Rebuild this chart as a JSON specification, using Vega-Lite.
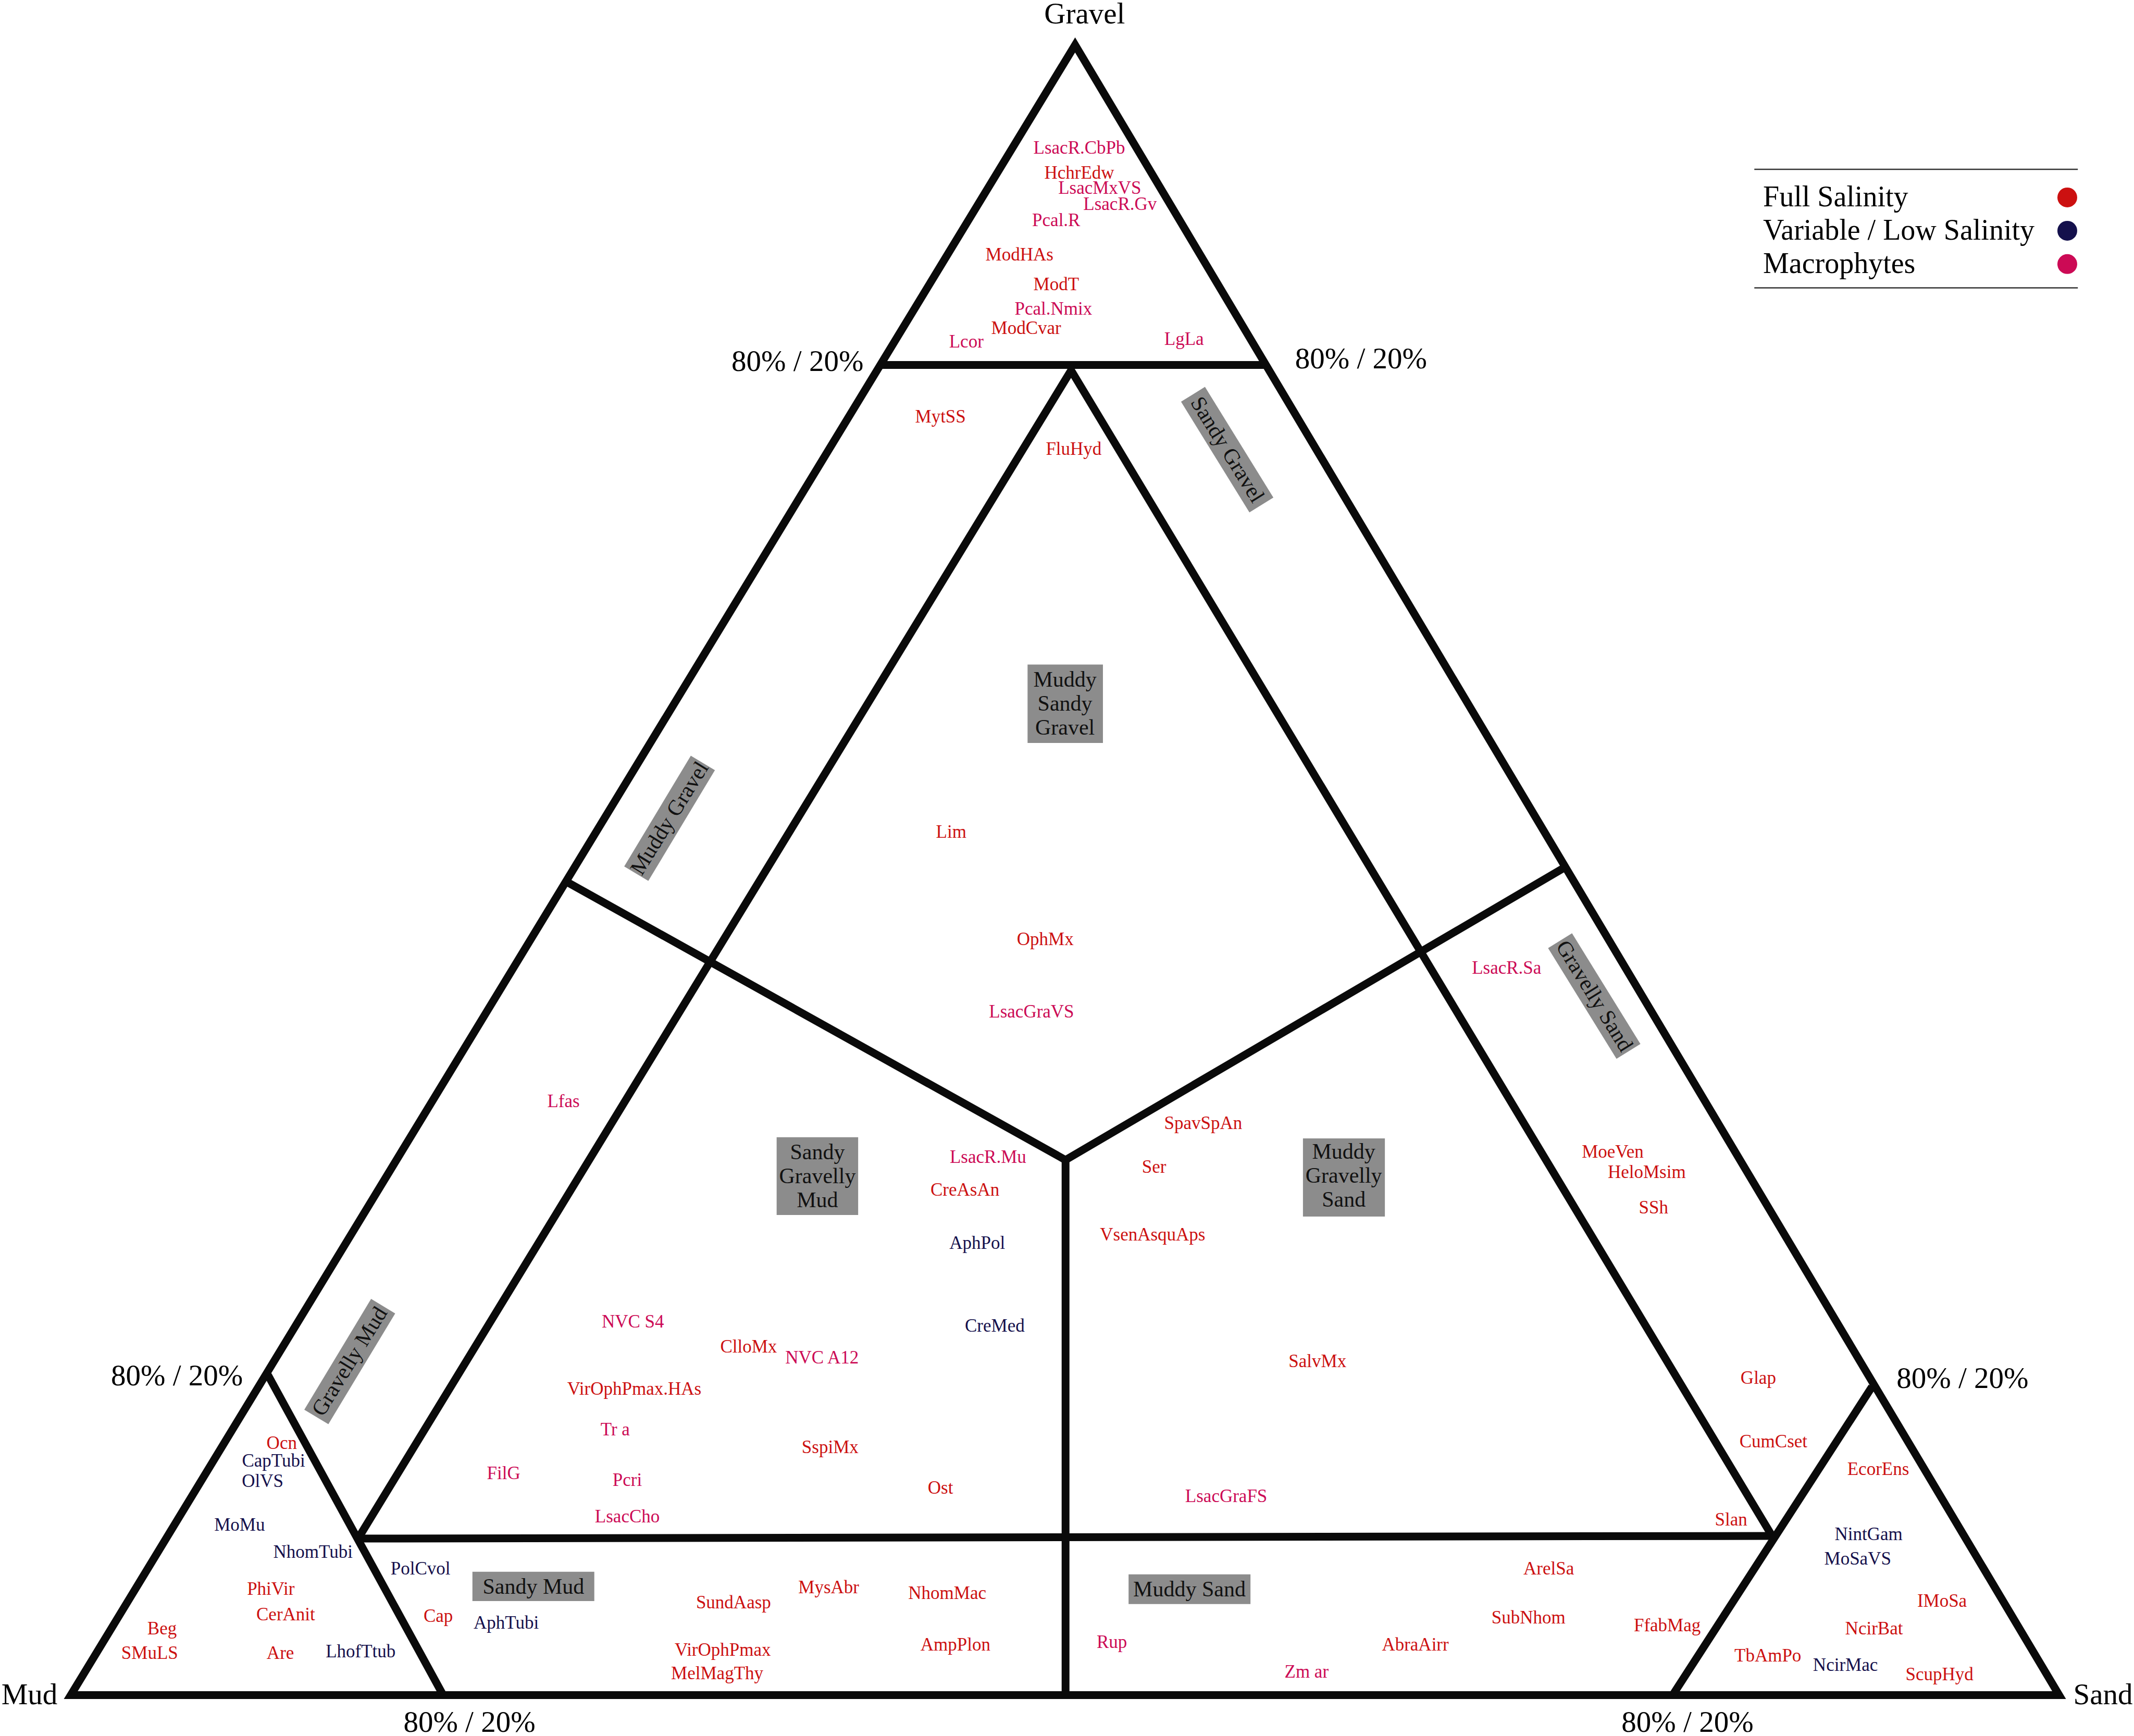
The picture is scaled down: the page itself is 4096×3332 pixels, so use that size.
{
"$schema": "https://vega.github.io/schema/vega-lite/v6.json",
"width": 4096, "height": 3332, "autosize": {"type": "none"}, "padding": 0,
"background": "white",
"config": {"view": {"stroke": null}, "font": "Liberation Serif", "text": {"font": "Liberation Serif"}},
"datasets": {
"lines": [
{"seg":"outer","o":0,"X":0,"Y":0},{"seg":"outer","o":1,"X":100,"Y":0},{"seg":"outer","o":2,"X":50.51,"Y":100},{"seg":"outer","o":3,"X":0,"Y":0},{"seg":"outer","o":4,"X":100,"Y":0},
{"seg":"g80","o":0,"X":40.72,"Y":80.61},{"seg":"g80","o":1,"X":60.11,"Y":80.61},
{"seg":"inner","o":0,"X":14.45,"Y":9.49},{"seg":"inner","o":1,"X":50.31,"Y":80.28},{"seg":"inner","o":2,"X":85.56,"Y":9.65},
{"seg":"base10","o":0,"X":14.45,"Y":9.49},{"seg":"base10","o":1,"X":85.56,"Y":9.65},
{"seg":"vleft","o":0,"X":24.98,"Y":49.26},{"seg":"vleft","o":1,"X":50.03,"Y":32.43},{"seg":"vleft","o":2,"X":75.15,"Y":50.17},
{"seg":"vert","o":0,"X":50.03,"Y":32.43},{"seg":"vert","o":1,"X":50.03,"Y":0},
{"seg":"sleft","o":0,"X":9.92,"Y":19.39},{"seg":"sleft","o":1,"X":18.73,"Y":0},
{"seg":"sright","o":0,"X":90.59,"Y":18.69},{"seg":"sright","o":1,"X":80.56,"Y":0}
],
"boxes": [
{"t":"Muddy\nSandy\nGravel","X":48.12,"X2":51.91,"Y":62.45,"Y2":57.70,"cx":50.0,"cy":61.53},
{"t":"Sandy\nGravelly\nMud","X":35.50,"X2":39.60,"Y":33.81,"Y2":29.10,"cx":37.55,"cy":32.89},
{"t":"Muddy\nGravelly\nSand","X":61.97,"X2":66.09,"Y":33.74,"Y2":29.00,"cx":64.02,"cy":32.92},
{"t":"Sandy Mud","X":20.20,"X2":26.33,"Y":7.48,"Y2":5.70,"cx":23.27,"cy":6.54},
{"t":"Muddy Sand","X":53.20,"X2":59.33,"Y":7.32,"Y2":5.52,"cx":56.26,"cy":6.40}
],
"bands": [
{"t":"Sandy Gravel","X":56.44,"Y":78.83,"X2":59.88,"Y2":72.12,"cx":58.16,"cy":75.47,"a":58.3},
{"t":"Gravelly Sand","X":74.90,"Y":45.72,"X2":78.34,"Y2":39.01,"cx":76.62,"cy":42.36,"a":58.3},
{"t":"Muddy Gravel","X":28.44,"Y":49.78,"X2":31.79,"Y2":56.49,"cx":30.12,"cy":53.13,"a":-58.3},
{"t":"Gravelly Mud","X":12.35,"Y":16.86,"X2":15.71,"Y2":23.57,"cx":14.03,"cy":20.22,"a":-58.3}
],
"cornersC": [
{"t":"Gravel","X":50.99,"Y":101.85},
{"t":"80% / 20%","X":36.55,"Y":80.78},
{"t":"80% / 20%","X":64.89,"Y":80.94},
{"t":"80% / 20%","X":5.34,"Y":19.31},
{"t":"80% / 20%","X":95.14,"Y":19.14},
{"t":"80% / 20%","X":20.05,"Y":-1.68},
{"t":"80% / 20%","X":81.31,"Y":-1.68}
],
"cornersL": [{"t":"Mud","X":-3.49,"Y":0}],
"cornersR": [{"t":"Sand","X":103.70,"Y":0}],
"legrules": [
{"X":84.67,"X2":100.94,"Y":92.46},
{"X":84.67,"X2":100.94,"Y":85.28}
],
"legend": [
{"t":"Full Salinity","g":"F","X":85.11,"DX":100.41,"Y":90.76},
{"t":"Variable / Low Salinity","g":"V","X":85.11,"DX":100.41,"Y":88.74},
{"t":"Macrophytes","g":"M","X":85.11,"DX":100.41,"Y":86.72}
],
"taxa": [
{"t":"LsacR.CbPb","g":"M","X":50.72,"Y":93.77},
{"t":"HchrEdw","g":"F","X":50.72,"Y":92.24},
{"t":"LsacMxVS","g":"M","X":51.75,"Y":91.34},
{"t":"LsacR.Gv","g":"M","X":52.77,"Y":90.35},
{"t":"Pcal.R","g":"M","X":49.56,"Y":89.36},
{"t":"ModHAs","g":"F","X":47.71,"Y":87.29},
{"t":"ModT","g":"F","X":49.56,"Y":85.48},
{"t":"Pcal.Nmix","g":"M","X":49.42,"Y":83.99},
{"t":"ModCvar","g":"F","X":48.05,"Y":82.84},
{"t":"Lcor","g":"M","X":45.04,"Y":82.01},
{"t":"LgLa","g":"M","X":55.99,"Y":82.18},
{"t":"MytSS","g":"F","X":43.74,"Y":77.48},
{"t":"FluHyd","g":"F","X":50.44,"Y":75.50},
{"t":"Lim","g":"F","X":44.28,"Y":52.31},
{"t":"OphMx","g":"F","X":49.01,"Y":45.79},
{"t":"LsacGraVS","g":"M","X":48.32,"Y":41.42},
{"t":"LsacR.Sa","g":"M","X":72.21,"Y":44.06},
{"t":"Lfas","g":"M","X":24.78,"Y":35.97},
{"t":"LsacR.Mu","g":"M","X":46.13,"Y":32.59},
{"t":"CreAsAn","g":"F","X":44.97,"Y":30.61},
{"t":"AphPol","g":"V","X":45.59,"Y":27.39},
{"t":"CreMed","g":"V","X":46.47,"Y":22.36},
{"t":"NVC S4","g":"M","X":28.27,"Y":22.61},
{"t":"ClloMx","g":"F","X":34.09,"Y":21.12},
{"t":"NVC A12","g":"M","X":37.78,"Y":20.46},
{"t":"VirOphPmax.HAs","g":"F","X":28.34,"Y":18.56},
{"t":"Tr a","g":"M","X":27.38,"Y":16.09},
{"t":"SspiMx","g":"F","X":38.19,"Y":15.02},
{"t":"FilG","g":"M","X":21.77,"Y":13.45},
{"t":"Pcri","g":"M","X":27.99,"Y":13.04},
{"t":"LsacCho","g":"M","X":27.99,"Y":10.81},
{"t":"Ost","g":"F","X":43.74,"Y":12.54},
{"t":"SpavSpAn","g":"F","X":56.95,"Y":34.65},
{"t":"Ser","g":"F","X":54.48,"Y":32.01},
{"t":"VsenAsquAps","g":"F","X":54.41,"Y":27.89},
{"t":"SalvMx","g":"F","X":62.70,"Y":20.21},
{"t":"LsacGraFS","g":"M","X":58.11,"Y":12.05},
{"t":"MoeVen","g":"F","X":77.55,"Y":32.92},
{"t":"HeloMsim","g":"F","X":79.26,"Y":31.68},
{"t":"SSh","g":"F","X":79.60,"Y":29.54},
{"t":"Glap","g":"F","X":84.87,"Y":19.22},
{"t":"CumCset","g":"F","X":85.63,"Y":15.35},
{"t":"Slan","g":"F","X":83.50,"Y":10.64},
{"t":"EcorEns","g":"F","X":90.90,"Y":13.70},
{"t":"NintGam","g":"V","X":90.42,"Y":9.74},
{"t":"MoSaVS","g":"V","X":89.87,"Y":8.25},
{"t":"IMoSa","g":"F","X":94.11,"Y":5.69},
{"t":"NcirBat","g":"F","X":90.69,"Y":4.04},
{"t":"TbAmPo","g":"F","X":85.35,"Y":2.39},
{"t":"NcirMac","g":"V","X":89.25,"Y":1.82},
{"t":"ScupHyd","g":"F","X":93.98,"Y":1.24},
{"t":"Ocn","g":"F","X":10.61,"Y":15.26},
{"t":"CapTubi","g":"V","X":10.20,"Y":14.19},
{"t":"OlVS","g":"V","X":9.65,"Y":12.95},
{"t":"MoMu","g":"V","X":8.49,"Y":10.31},
{"t":"NhomTubi","g":"V","X":12.18,"Y":8.66},
{"t":"PhiVir","g":"F","X":10.06,"Y":6.44},
{"t":"CerAnit","g":"F","X":10.81,"Y":4.87},
{"t":"Beg","g":"F","X":4.59,"Y":4.04},
{"t":"SMuLS","g":"F","X":3.97,"Y":2.56},
{"t":"Are","g":"F","X":10.54,"Y":2.56},
{"t":"LhofTtub","g":"V","X":14.58,"Y":2.64},
{"t":"PolCvol","g":"V","X":17.59,"Y":7.67},
{"t":"Cap","g":"F","X":18.48,"Y":4.79},
{"t":"AphTubi","g":"V","X":21.90,"Y":4.37},
{"t":"SundAasp","g":"F","X":33.33,"Y":5.61},
{"t":"MysAbr","g":"F","X":38.12,"Y":6.52},
{"t":"NhomMac","g":"F","X":44.08,"Y":6.19},
{"t":"VirOphPmax","g":"F","X":32.79,"Y":2.72},
{"t":"MelMagThy","g":"F","X":32.51,"Y":1.32},
{"t":"AmpPlon","g":"F","X":44.49,"Y":3.05},
{"t":"Rup","g":"M","X":52.36,"Y":3.22},
{"t":"Zm ar","g":"M","X":62.15,"Y":1.40},
{"t":"AbraAirr","g":"F","X":67.62,"Y":3.05},
{"t":"ArelSa","g":"F","X":74.33,"Y":7.67},
{"t":"SubNhom","g":"F","X":73.31,"Y":4.70},
{"t":"FfabMag","g":"F","X":80.29,"Y":4.21}
]
},
"encoding": {
"x": {"field": "X", "type": "quantitative", "scale": {"domain": [-3.559, 103.765], "nice": false, "zero": false}, "axis": null},
"y": {"field": "Y", "type": "quantitative", "scale": {"domain": [-2.475, 102.723], "nice": false, "zero": false}, "axis": null}
},
"layer": [
{"data": {"name": "boxes"}, "mark": {"type": "rect", "fill": "#8c8c8c"},
 "encoding": {"x2": {"field": "X2"}, "y2": {"field": "Y2"}}},
{"data": {"name": "bands"}, "mark": {"type": "rule", "stroke": "#8c8c8c", "strokeWidth": 54, "strokeCap": "butt"},
 "encoding": {"x2": {"field": "X2"}, "y2": {"field": "Y2"}}},
{"data": {"name": "lines"}, "mark": {"type": "line", "stroke": "#0a0a0a", "strokeWidth": 15, "strokeJoin": "miter", "strokeCap": "butt"},
 "encoding": {"detail": {"field": "seg"}, "order": {"field": "o", "type": "quantitative"}}},
{"data": {"name": "legrules"}, "mark": {"type": "rule", "stroke": "#333333", "strokeWidth": 2.5},
 "encoding": {"x2": {"field": "X2"}}},
{"data": {"name": "taxa"}, "mark": {"type": "text", "fontSize": 35, "align": "center", "baseline": "middle"},
 "encoding": {"text": {"field": "t"}, "color": {"field": "g", "type": "nominal", "scale": {"domain": ["F", "V", "M"], "range": ["#cc1010", "#14104c", "#cc0a55"]}, "legend": null}}},
{"data": {"name": "boxes"}, "mark": {"type": "text", "fontSize": 42, "align": "center", "baseline": "middle", "lineBreak": "\n", "lineHeight": 46, "fill": "#111111"},
 "encoding": {"text": {"field": "t"}, "x": {"field": "cx", "type": "quantitative"}, "y": {"field": "cy", "type": "quantitative"}}},
{"data": {"name": "bands"}, "mark": {"type": "text", "fontSize": 42, "align": "center", "baseline": "middle", "fill": "#111111"},
 "encoding": {"text": {"field": "t"}, "x": {"field": "cx", "type": "quantitative"}, "y": {"field": "cy", "type": "quantitative"}, "angle": {"field": "a", "type": "quantitative", "scale": null}}},
{"data": {"name": "cornersC"}, "mark": {"type": "text", "fontSize": 57, "align": "center", "baseline": "middle", "fill": "#000000"},
 "encoding": {"text": {"field": "t"}}},
{"data": {"name": "cornersL"}, "mark": {"type": "text", "fontSize": 57, "align": "left", "baseline": "middle", "fill": "#000000"},
 "encoding": {"text": {"field": "t"}}},
{"data": {"name": "cornersR"}, "mark": {"type": "text", "fontSize": 57, "align": "right", "baseline": "middle", "fill": "#000000"},
 "encoding": {"text": {"field": "t"}}},
{"data": {"name": "legend"}, "mark": {"type": "text", "fontSize": 56, "align": "left", "baseline": "middle", "fill": "#000000"},
 "encoding": {"text": {"field": "t"}}},
{"data": {"name": "legend"}, "mark": {"type": "point", "shape": "circle", "filled": true, "size": 1444, "opacity": 1},
 "encoding": {"x": {"field": "DX", "type": "quantitative"}, "color": {"field": "g", "type": "nominal", "legend": null}}}
]
}
